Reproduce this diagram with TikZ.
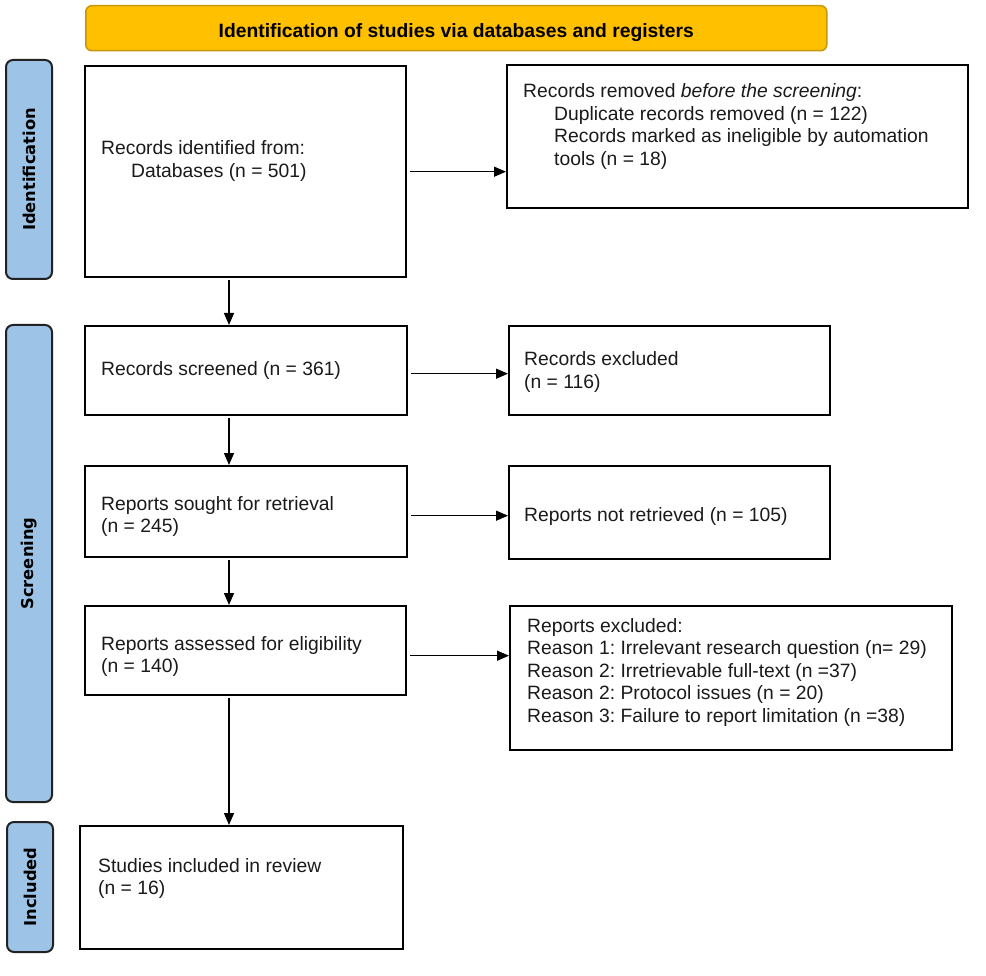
\documentclass[tikz,border=0pt]{standalone}
\usepackage{fontspec}
\setmainfont{Liberation Sans}
\newfontfamily\sidefont{DejaVu Sans}
\usetikzlibrary{arrows.meta,calc}
\definecolor{hdrfill}{HTML}{FFC000}
\definecolor{hdrdraw}{HTML}{C8960A}
\definecolor{sidefill}{HTML}{9DC3E6}
\definecolor{sidedraw}{HTML}{222222}
\definecolor{txt}{HTML}{1A1A1A}
\frenchspacing
\begin{document}
\begin{tikzpicture}[x=1pt,y=-1pt,
  box/.style={draw=black, line width=2.4pt, fill=white, inner sep=0pt, anchor=north west},
  sidebar/.style={draw=sidedraw, line width=2pt, fill=sidefill, rounded corners=7pt, inner sep=0pt,
     rotate=90, minimum height=46pt, text=black, font=\sidefont\bfseries\fontsize{16.3}{19}\selectfont},
  header/.style={draw=hdrdraw, line width=1.5pt, fill=hdrfill, rounded corners=6pt, inner sep=0pt,
     anchor=north west, minimum width=741pt, minimum height=45pt, text=black,
     font=\bfseries\fontsize{19.3}{22}\selectfont},
  txtnode/.style={anchor=base west, inner sep=0pt, text=txt, font=\fontsize{19.3}{22.5}\selectfont},
  arr/.style={draw=black, line width=1.4pt, -{Triangle[length=12pt,width=10pt]}}
]
\useasboundingbox (0,0) rectangle (986,976);

% header
\node[header] (hdr) at (85,5) {\raisebox{-9.5pt}[0pt][0pt]{Identification of studies via databases and registers}};

% side bars
\node[sidebar, minimum width=219pt] (s1) at (29,169.5) {Identification};
\node[sidebar, minimum width=477pt] (s2) at (29,563.5) {Screening};
\node[sidebar, minimum width=130pt] (s3) at (30,887) {Included};

% boxes
\node[box, minimum width=321pt, minimum height=211pt] (b1) at (84,65) {};
\node[box, minimum width=461pt, minimum height=143pt] (b2) at (506,64) {};
\node[box, minimum width=322pt, minimum height=89pt] (b3) at (84,325) {};
\node[box, minimum width=321pt, minimum height=89pt] (b4) at (508,325) {};
\node[box, minimum width=322pt, minimum height=91pt] (b5) at (84,465) {};
\node[box, minimum width=321pt, minimum height=93pt] (b6) at (508,465) {};
\node[box, minimum width=321pt, minimum height=89pt] (b7) at (84,605) {};
\node[box, minimum width=442pt, minimum height=144pt] (b8) at (509,605) {};
\node[box, minimum width=323pt, minimum height=123pt] (b9) at (79,825) {};

% texts
\node[txtnode] (t1) at (101,155) {\vtop{\hbox{Records identified from:}\hbox{\hspace{30pt}Databases (n = 501)}}};
\node[txtnode] (t2) at (523,98) {\vtop{\hbox{Records removed \textit{before the screening}:}%
  \hbox{\hspace{31pt}Duplicate records removed (n = 122)}%
  \hbox{\hspace{31pt}Records marked as ineligible by automation}%
  \hbox{\hspace{31pt}tools (n = 18)}}};
\node[txtnode] (t3) at (101,376) {Records screened (n = 361)};
\node[txtnode] (t4) at (524,366) {\vtop{\hbox{Records excluded}\hbox{(n = 116)}}};
\node[txtnode] (t5) at (101,510) {\vtop{\hbox{Reports sought for retrieval}\hbox{(n = 245)}}};
\node[txtnode] (t6) at (524,521) {Reports not retrieved (n = 105)};
\node[txtnode] (t7) at (101,650) {\vtop{\hbox{Reports assessed for eligibility}\hbox{(n = 140)}}};
\node[txtnode] (t8) at (527,632) {\vtop{\hbox{Reports excluded:}%
  \hbox{Reason 1: Irrelevant research question (n= 29)}%
  \hbox{Reason 2: Irretrievable full-text (n =37)}%
  \hbox{Reason 2: Protocol issues (n = 20)}%
  \hbox{Reason 3: Failure to report limitation (n =38)}}};
\node[txtnode] (t9) at (98,872) {\vtop{\hbox{Studies included in review}\hbox{(n = 16)}}};

% connectors
\coordinate (ax) at (229,0);
\draw[arr, shorten <=2pt] (b1.south -| ax) -- (b3.north -| ax);
\draw[arr, shorten <=2pt] (b3.south -| ax) -- (b5.north -| ax);
\draw[arr, shorten <=2pt] (b5.south -| ax) -- (b7.north -| ax);
\draw[arr, shorten <=2pt] (b7.south -| ax) -- (b9.north -| ax);

\draw[arr, shorten <=3pt] (b1.east) -- (b1.east -| b2.west);
\draw[arr, shorten <=3pt] ([yshift=-3pt]b3.east) -- ([yshift=-3pt]b3.east -| b4.west);
\draw[arr, shorten <=3pt] ([yshift=-4pt]b5.east) -- ([yshift=-4pt]b5.east -| b6.west);
\draw[arr, shorten <=3pt] ([yshift=-5pt]b7.east) -- ([yshift=-5pt]b7.east -| b8.west);
\end{tikzpicture}
\end{document}
